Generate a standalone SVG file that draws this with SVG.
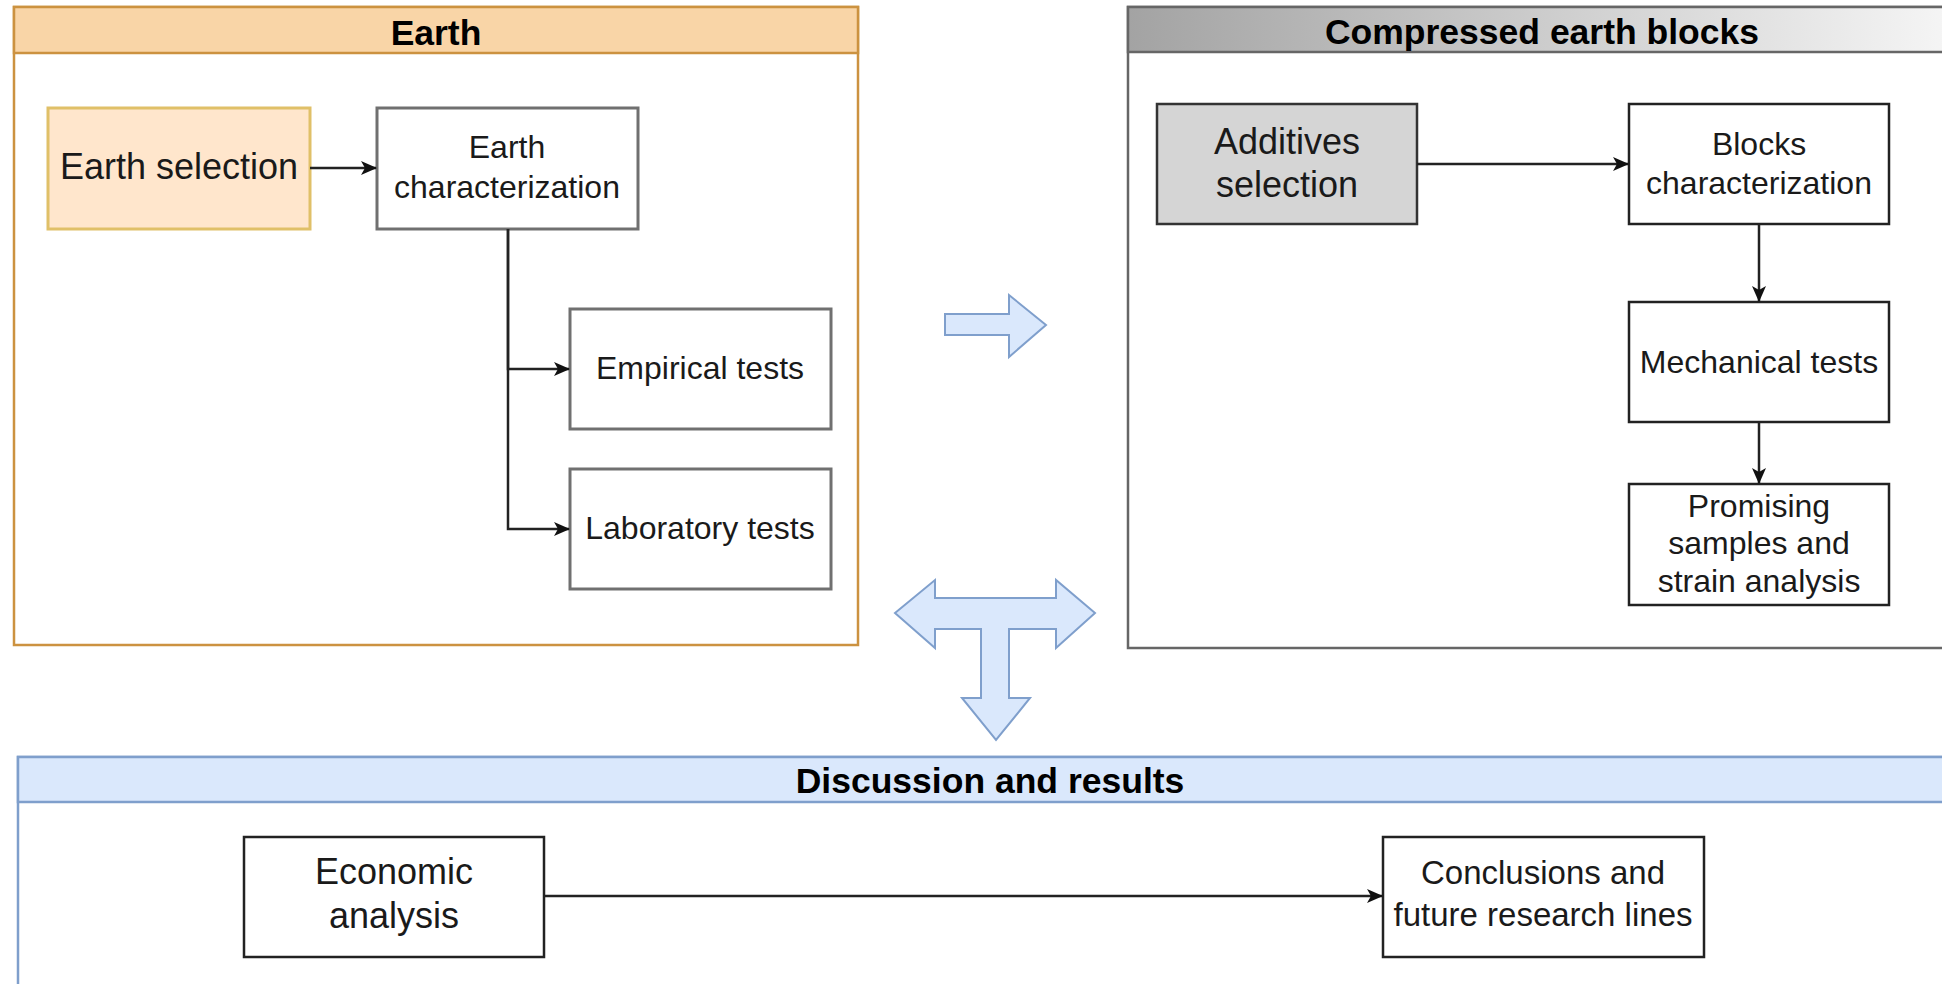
<svg xmlns="http://www.w3.org/2000/svg" width="1942" height="984" viewBox="0 0 1942 984">
  <style>
    .t { font-family: "Liberation Sans", Arial, sans-serif; fill: #1a1a1a; text-anchor: middle; }
    .n { font-size: 32px; }
    .b { font-size: 36px; }
    .h { font-size: 35.5px; font-weight: bold; fill: #000; }
    .gbox { fill: #fff; stroke: #707070; stroke-width: 3; }
    .kbox { fill: #fff; stroke: #222; stroke-width: 2.5; }
    .conn { fill: none; stroke: #222; stroke-width: 2.5; }
    .blue { fill: #dae8fc; stroke: #7f9fcc; stroke-width: 2; stroke-linejoin: miter; }
  </style>
  <defs>
    <marker id="arr" markerWidth="16" markerHeight="14" refX="15" refY="7" orient="auto" markerUnits="userSpaceOnUse">
      <path d="M0,0 L16,7 L0,14 L4,7 Z" fill="#111"/>
    </marker>
    <linearGradient id="grayHdr" x1="0" y1="0" x2="1" y2="0">
      <stop offset="0" stop-color="#a3a3a3"/>
      <stop offset="1" stop-color="#f7f7f7"/>
    </linearGradient>
  </defs>
  <rect width="1942" height="984" fill="#fff"/>

  <!-- Containers -->
  <g id="earth">
    <rect x="14" y="7" width="844" height="638" fill="#fff" stroke="#cc9240" stroke-width="2.5"/>
    <rect x="14" y="7" width="844" height="46" fill="#f9d5a7" stroke="#cc9240" stroke-width="2.5"/>
    <text class="t h" x="436" y="45">Earth</text>
  </g>
  <g id="ceb">
    <rect x="1128" y="7" width="840" height="641" fill="#fff" stroke="#666" stroke-width="2.5"/>
    <rect x="1128" y="7" width="840" height="45" fill="url(#grayHdr)" stroke="#666" stroke-width="2.5"/>
    <text class="t h" x="1542" y="44">Compressed earth blocks</text>
  </g>
  <g id="discussion">
    <rect x="18" y="757" width="1950" height="260" fill="#fff" stroke="#7f9fcc" stroke-width="2.5"/>
    <rect x="18" y="757" width="1950" height="45" fill="#dae8fc" stroke="#7f9fcc" stroke-width="2.5"/>
    <text class="t h" x="990" y="793">Discussion and results</text>
  </g>

  <!-- Big blue arrows -->
  <g id="arrow-right">
    <polygon class="blue" points="945,314 1009,314 1009,295 1046,325 1009,357 1009,335 945,335"/>
  </g>
  <g id="arrow-t">
    <polygon class="blue" points="895,613 935,580 935,598 1056,598 1056,580 1095,613 1056,648 1056,629 1009,629 1009,698 1030,698 996,740 962,698 981,698 981,629 935,629 935,648"/>
  </g>

  <!-- Nodes -->
  <g id="earth-selection">
    <rect x="48" y="108" width="262" height="121" fill="#ffe6cc" stroke="#e0c068" stroke-width="3"/>
    <text class="t b" x="179" y="179">Earth selection</text>
  </g>
  <g id="earth-characterization">
    <rect class="gbox" x="377" y="108" width="261" height="121"/>
    <text class="t n" x="507" y="158">Earth</text>
    <text class="t n" x="507" y="198">characterization</text>
  </g>
  <g id="empirical-tests">
    <rect class="gbox" x="570" y="309" width="261" height="120"/>
    <text class="t n" x="700" y="379">Empirical tests</text>
  </g>
  <g id="laboratory-tests">
    <rect class="gbox" x="570" y="469" width="261" height="120"/>
    <text class="t n" x="700" y="539">Laboratory tests</text>
  </g>
  <g id="additives-selection">
    <rect x="1157" y="104" width="260" height="120" fill="#d5d5d5" stroke="#333" stroke-width="2.5"/>
    <text class="t b" x="1287" y="154">Additives</text>
    <text class="t b" x="1287" y="197">selection</text>
  </g>
  <g id="blocks-characterization">
    <rect class="kbox" x="1629" y="104" width="260" height="120"/>
    <text class="t n" x="1759" y="155">Blocks</text>
    <text class="t n" x="1759" y="194">characterization</text>
  </g>
  <g id="mechanical-tests">
    <rect class="kbox" x="1629" y="302" width="260" height="120"/>
    <text class="t n" x="1759" y="373">Mechanical tests</text>
  </g>
  <g id="promising-samples">
    <rect class="kbox" x="1629" y="484" width="260" height="121"/>
    <text class="t n" x="1759" y="517">Promising</text>
    <text class="t n" x="1759" y="554">samples and</text>
    <text class="t n" x="1759" y="592">strain analysis</text>
  </g>
  <g id="economic-analysis">
    <rect class="kbox" x="244" y="837" width="300" height="120"/>
    <text class="t b" x="394" y="884">Economic</text>
    <text class="t b" x="394" y="928">analysis</text>
  </g>
  <g id="conclusions">
    <rect class="kbox" x="1383" y="837" width="321" height="120"/>
    <text class="t" style="font-size:33px" x="1543" y="884">Conclusions and</text>
    <text class="t" style="font-size:33px" x="1543" y="926">future research lines</text>
  </g>

  <!-- Connectors -->
  <g id="connectors">
    <path class="conn" d="M310,168 H376" marker-end="url(#arr)"/>
    <path class="conn" d="M508,229 V369 H569" marker-end="url(#arr)"/>
    <path class="conn" d="M508,229 V529 H569" marker-end="url(#arr)"/>
    <path class="conn" d="M1417,164 H1628" marker-end="url(#arr)"/>
    <path class="conn" d="M1759,224 V301" marker-end="url(#arr)"/>
    <path class="conn" d="M1759,422 V483" marker-end="url(#arr)"/>
    <path class="conn" d="M544,896 H1382" marker-end="url(#arr)"/>
  </g>
</svg>
